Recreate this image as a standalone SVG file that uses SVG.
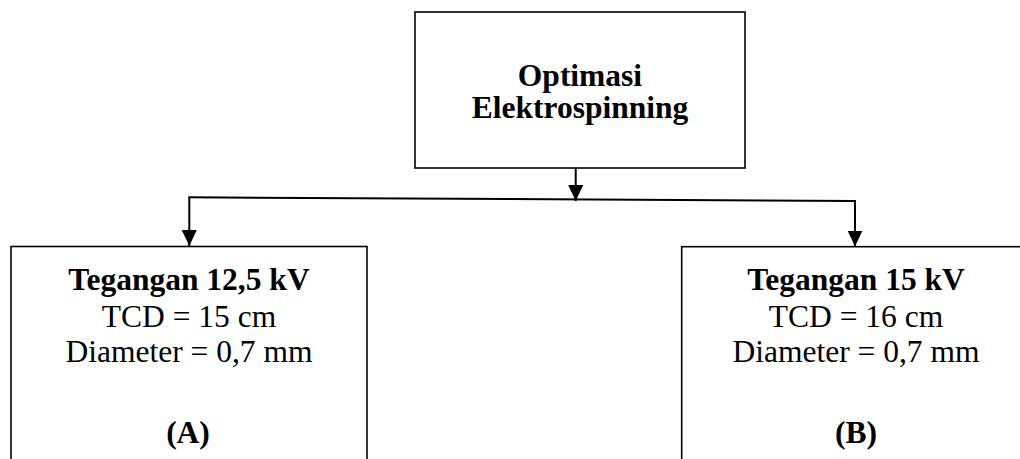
<svg xmlns="http://www.w3.org/2000/svg" width="1020" height="459" viewBox="0 0 1020 459">
  <style>
    .box { fill: #fff; stroke: #000; stroke-width: 1.6; }
    .conn { fill: none; stroke: #000; stroke-width: 2; }
    text { font-family: 'Liberation Serif', 'DejaVu Serif', 'Times New Roman', serif; font-size: 31.5px; fill: #000; text-anchor: middle; }
    .b { font-weight: bold; }
  </style>
  <defs>
    <marker id="arr" markerUnits="userSpaceOnUse" markerWidth="16" markerHeight="15" refX="16" refY="7.5" orient="auto">
      <path d="M0,0 L16,7.5 L0,15 Z" fill="#000"/>
    </marker>
  </defs>
  <rect width="1020" height="459" fill="#fff"/>
  <g id="connectors">
    <line class="conn" x1="575.7" y1="168" x2="575.7" y2="201" marker-end="url(#arr)"/>
    <line class="conn" x1="188.3" y1="197.3" x2="856" y2="201"/>
    <polyline class="conn" points="189.3,197.3 189.3,246" marker-end="url(#arr)"/>
    <polyline class="conn" points="855,201 855,246.5" marker-end="url(#arr)"/>
  </g>
  <g id="node-top">
    <rect class="box" x="415" y="12" width="330" height="156"/>
    <text class="b" font-family="Liberation Serif, DejaVu Serif, serif" x="580" y="86">Optimasi</text>
    <text class="b" font-family="Liberation Serif, DejaVu Serif, serif" x="580" y="118">Elektrospinning</text>
  </g>
  <g id="node-a">
    <rect class="box" x="11" y="246.5" width="356" height="230"/>
    <text class="b" font-family="Liberation Serif, DejaVu Serif, serif" x="189" y="290">Tegangan 12,5 kV</text>
    <text font-family="Liberation Serif, DejaVu Serif, serif" x="189" y="326.5">TCD = 15 cm</text>
    <text font-family="Liberation Serif, DejaVu Serif, serif" x="189" y="362">Diameter = 0,7 mm</text>
    <text class="b" font-family="Liberation Serif, DejaVu Serif, serif" x="188" y="443">(A)</text>
  </g>
  <g id="node-b">
    <rect class="box" x="681.7" y="246.7" width="360" height="230"/>
    <text class="b" font-family="Liberation Serif, DejaVu Serif, serif" x="856" y="290">Tegangan 15 kV</text>
    <text font-family="Liberation Serif, DejaVu Serif, serif" x="856" y="326.5">TCD = 16 cm</text>
    <text font-family="Liberation Serif, DejaVu Serif, serif" x="856" y="362">Diameter = 0,7 mm</text>
    <text class="b" font-family="Liberation Serif, DejaVu Serif, serif" x="856" y="443">(B)</text>
  </g>
</svg>
